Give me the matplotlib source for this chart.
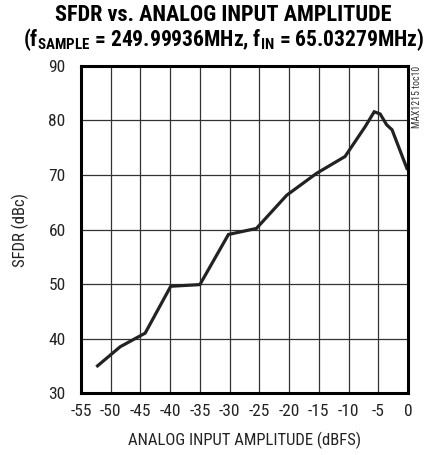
import matplotlib
matplotlib.use('Agg')
import matplotlib.pyplot as plt
import numpy as np

# analog input amplitude (dBFS) and measured SFDR (dBc)
amp = [-52.2, -48.4, -44.2, -39.9, -35.0, -30.2, -25.5, -20.4, -15.4, -10.6,
       -7.2, -5.7, -4.7, -3.6, -2.7, -0.2]
sfdr = [35.0, 38.5, 41.0, 49.6, 49.9, 59.1, 60.2, 66.3, 70.3, 73.4,
        78.9, 81.6, 81.2, 79.2, 78.3, 71.2]

xticks = list(range(-55, 1, 5))
yticks = list(range(30, 91, 10))

plt.rcParams['font.family'] = ['Roboto Condensed', 'DejaVu Sans']
plt.rcParams['axes.unicode_minus'] = False
plt.rcParams['mathtext.fontset'] = 'custom'
plt.rcParams['mathtext.rm'] = 'Roboto Condensed:bold'
plt.rcParams['mathtext.bf'] = 'Roboto Condensed:bold'

fig = plt.figure(figsize=(4.47, 4.55), dpi=100)
ax = fig.add_axes([0.181, 0.136, 0.732, 0.719])

ax.plot(amp, sfdr, color='#222222', lw=2.3, solid_joinstyle='miter')
ax.set_xlim(-55, 0)
ax.set_ylim(30, 90)
ax.set_xticks(xticks)
ax.set_yticks(yticks)
ax.grid(True, color='#333333', lw=0.9)
ax.tick_params(length=0, labelsize=12.5, colors='#222222')
ax.tick_params(axis='y', pad=11)
ax.tick_params(axis='x', pad=8)
for s in ax.spines.values():
    s.set_linewidth(2.2)
ax.set_xlabel('ANALOG INPUT AMPLITUDE (dBFS)', fontsize=12, labelpad=9, color='#222222')
ax.set_ylabel('SFDR (dBc)', fontsize=12, labelpad=14, color='#222222')

fig.text(0.5, 0.966, 'SFDR vs. ANALOG INPUT AMPLITUDE', ha='center', va='center',
         fontsize=16, fontweight='bold')
fig.text(0.5, 0.913, r'(f$_{\mathrm{SAMPLE}}$ = 249.99936MHz, f$_{\mathrm{IN}}$ = 65.03279MHz)',
         ha='center', va='center', fontsize=15.5, fontweight='bold')
fig.text(0.922, 0.855, 'MAX1215 toc10', rotation=90, ha='left', va='top', fontsize=7,
         color='#333333')

fig.savefig('out.png', dpi=100)
